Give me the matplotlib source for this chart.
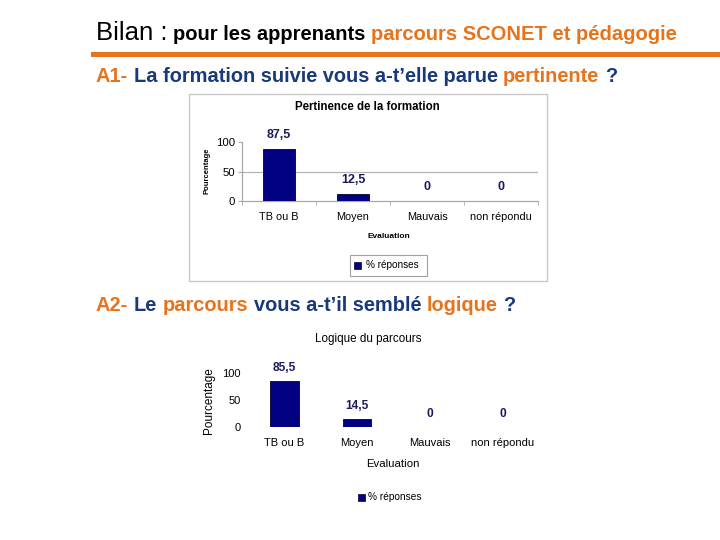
import matplotlib
matplotlib.use('Agg')
import matplotlib.pyplot as plt
from matplotlib.patches import Rectangle
from matplotlib.lines import Line2D

plt.rcParams['font.family'] = ['Liberation Sans', 'DejaVu Sans']

# ---- data ----
categories = ["TB ou B", "Moyen", "Mauvais", "non répondu"]
pertinence = [87.5, 12.5, 0, 0]
logique = [85.5, 14.5, 0, 0]
labels_pertinence = ["87,5", "12,5", "0", "0"]
labels_logique = ["85,5", "14,5", "0", "0"]
yticks = [0, 50, 100]

W, H = 720, 540
fig = plt.figure(figsize=(7.2, 5.4), dpi=100)
fig.canvas.draw()
renderer = fig.canvas.get_renderer()

ORANGE = '#E8731A'
BLUE = '#183A7C'
NAVY = '#000080'
LABEL_NAVY = '#1A1A5E'


def fx(x):
    return x / W


def fy(y):
    return 1 - y / H


def text_width(s, size, weight):
    t = fig.text(0, 0, s, fontsize=size, fontweight=weight)
    w = t.get_window_extent(renderer).width
    t.remove()
    return w


def rich_line(segs, x0, x1, ybase):
    def layout(scale):
        x = x0
        texts = []
        for i, (s, c, size, w) in enumerate(segs):
            fs = size * scale
            if i > 0:
                x += text_width("x x", fs, w) - text_width("xx", fs, w)
            t = fig.text(fx(x), fy(ybase), s, color=c, fontsize=fs,
                         fontweight=w, va='baseline', ha='left')
            x += t.get_window_extent(renderer).width
            texts.append(t)
        return x, texts
    xend, texts = layout(1.0)
    for t in texts:
        t.remove()
    scale = (x1 - x0) / (xend - x0)
    layout(scale)


# ---- headings ----
rich_line([("Bilan :", 'black', 15, 'normal'),
           ("pour les apprenants", 'black', 11.7, 'bold'),
           ("parcours SCONET et pédagogie", ORANGE, 11.7, 'bold')],
          96, 675, 40)
fig.add_artist(Line2D([fx(93), 1.0], [fy(54), fy(54)], lw=3.6, color=ORANGE))

rich_line([("A1-", ORANGE, 13.3, 'bold'),
           ("La formation suivie vous a-t’elle parue", BLUE, 13.3, 'bold'),
           ("pertinente", ORANGE, 13.3, 'bold'),
           ("?", BLUE, 13.3, 'bold')],
          96, 617, 82)

rich_line([("A2-", ORANGE, 13.3, 'bold'),
           ("Le", BLUE, 13.3, 'bold'),
           ("parcours", ORANGE, 13.3, 'bold'),
           ("vous a-t’il semblé", BLUE, 13.3, 'bold'),
           ("logique", ORANGE, 13.3, 'bold'),
           ("?", BLUE, 13.3, 'bold')],
          96, 517, 311)

# ---- chart 1 : Pertinence de la formation ----
fig.add_artist(Rectangle((fx(189), fy(281)), (547 - 189) / W, (281 - 94) / H,
                         transform=fig.transFigure, fill=False,
                         edgecolor='#C8C8C8', lw=1))
ax1 = fig.add_axes([fx(242), fy(201), (538 - 242) / W, 59 / H])
x = list(range(len(categories)))
ax1.bar(x, pertinence, width=0.42, color=NAVY, edgecolor='#000033', lw=0.6, zorder=3)
ax1.set_xlim(-0.5, 3.5)
ax1.set_ylim(0, 100)
ax1.axhline(50, color='#B4B4B4', lw=0.9, zorder=0)
for s in ['top', 'right']:
    ax1.spines[s].set_visible(False)
for s in ['left', 'bottom']:
    ax1.spines[s].set_color('#A8A8A8')
    ax1.spines[s].set_linewidth(0.9)
ax1.set_yticks(yticks)
ax1.set_yticklabels([str(v) for v in yticks])
ax1.tick_params(axis='y', length=3, color='#A8A8A8', labelsize=8.2, pad=2)
ax1.set_xticks(x)
ax1.set_xticklabels(categories)
ax1.tick_params(axis='x', length=0, labelsize=7.8, pad=8)
ax1.set_xticks([-0.5, 0.5, 1.5, 2.5, 3.5], minor=True)
ax1.tick_params(axis='x', which='minor', length=3, color='#A8A8A8', direction='out')
ax1.patch.set_alpha(0)
for i, (v, lbl) in enumerate(zip(pertinence, labels_pertinence)):
    ax1.annotate(lbl, (i, v), xytext=(0, 10), textcoords='offset points',
                 ha='center', va='center', fontsize=9, fontweight='bold',
                 color=LABEL_NAVY, annotation_clip=False)
fig.text(fx(367.5), fy(107), "Pertinence de la formation", fontsize=8.3,
         fontweight='bold', ha='center', va='center')
fig.text(fx(207.5), fy(171), "Pourcentage", fontsize=5.5, fontweight='bold',
         rotation=90, ha='center', va='center')
fig.text(fx(389), fy(236), "Evaluation", fontsize=6, fontweight='bold',
         ha='center', va='center')
fig.add_artist(Rectangle((fx(350), fy(276)), 77 / W, 21 / H,
                         transform=fig.transFigure, fill=False,
                         edgecolor='#A0A0A0', lw=0.8))
fig.add_artist(Rectangle((fx(354), fy(269)), 7 / W, 7 / H,
                         transform=fig.transFigure, facecolor=NAVY,
                         edgecolor='#000033', lw=0.5))
fig.text(fx(366), fy(265.5), "% réponses", fontsize=7.2, ha='left', va='center')

# ---- chart 2 : Logique du parcours ----
ax2 = fig.add_axes([fx(248), fy(427), (539 - 248) / W, 54 / H])
ax2.bar(x, logique, width=0.39, color=NAVY, edgecolor='#000033', lw=0.6, zorder=3)
ax2.set_xlim(-0.5, 3.5)
ax2.set_ylim(0, 100)
for s in ax2.spines.values():
    s.set_visible(False)
ax2.set_yticks(yticks)
ax2.set_yticklabels([str(v) for v in yticks])
ax2.tick_params(axis='y', length=0, labelsize=8, pad=5)
ax2.set_xticks(x)
ax2.set_xticklabels(categories)
ax2.tick_params(axis='x', length=0, labelsize=8, pad=8)
ax2.patch.set_alpha(0)
for i, (v, lbl) in enumerate(zip(logique, labels_logique)):
    ax2.annotate(lbl, (i, v), xytext=(0, 9.5), textcoords='offset points',
                 ha='center', va='center', fontsize=8.6, fontweight='bold',
                 color=LABEL_NAVY, annotation_clip=False)
fig.text(fx(368), fy(339), "Logique du parcours", fontsize=8.4,
         ha='center', va='center')
fig.text(fx(209), fy(401), "Pourcentage", fontsize=8.5, rotation=90,
         ha='center', va='center')
fig.text(fx(393), fy(464), "Evaluation", fontsize=8.2, ha='center', va='center')
fig.add_artist(Rectangle((fx(358), fy(501)), 7 / W, 7 / H,
                         transform=fig.transFigure, facecolor=NAVY,
                         edgecolor='#000033', lw=0.5))
fig.text(fx(368), fy(497.5), "% réponses", fontsize=7.3, ha='left', va='center')

fig.savefig('out.png', dpi=100)
